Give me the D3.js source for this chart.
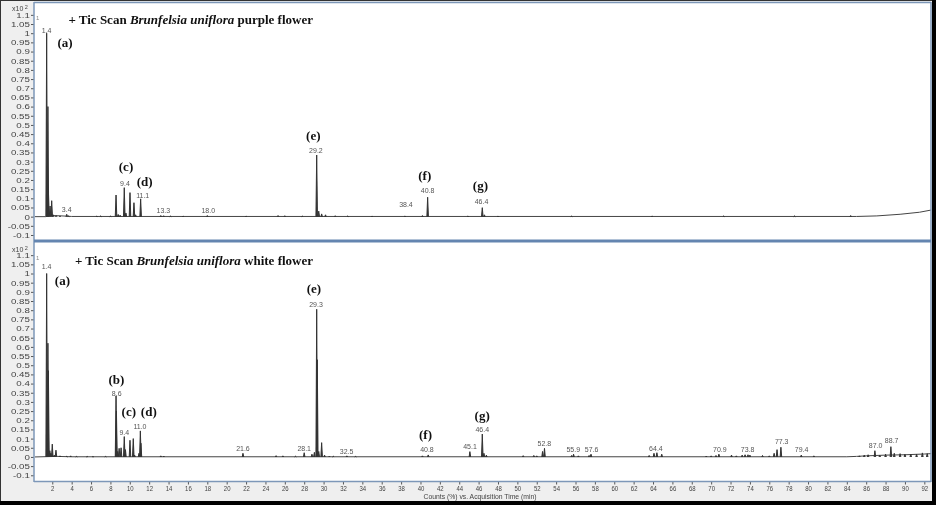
<!DOCTYPE html>
<html>
  <head>
    <script src="https://d3js.org/d3.v7.min.js" charset="utf-8"></script>
    <style type="text/css">
    body { margin: 0; background: #fff; }
    text { filter: grayscale(1); }
    .tick text { font-family: "Liberation Sans", Arial, sans-serif; font-size: 7.5px; fill: #444; }
    .tag { font-family: "Liberation Sans", Arial, sans-serif; font-size: 7px; fill: #555; text-anchor: middle; }
    .letter { font-family: "Liberation Serif", "Times New Roman", serif; font-size: 13px; font-weight: bold; fill: #111; text-anchor: middle; }
    .title { font-family: "Liberation Serif", "Times New Roman", serif; font-size: 13px; font-weight: bold; fill: #111; }
    </style>
  </head>
  <body>
  <script type="text/javascript">

  // retention time (min), relative height (x10^2 counts %)
  var topPeaks = [
    [1.42, 1.0], [1.55, 0.6], [1.6, 0.14], [1.77, 0.058], [1.94, 0.087], [2.1, 0.01], [2.4, 0.006],
    [2.8, 0.004], [3.49, 0.013], [3.7, 0.004], [6.6, 0.003], [7.0, 0.004], [8.0, 0.003],
    [8.58, 0.118], [8.8, 0.012], [9.0, 0.008], [9.43, 0.158], [9.6, 0.02], [10.02, 0.131],
    [10.43, 0.076], [10.6, 0.01], [11.12, 0.097], [13.2, 0.006], [13.5, 0.005], [14.2, 0.003],
    [15.5, 0.003], [18.0, 0.006], [22.0, 0.003], [25.3, 0.006], [26.0, 0.005], [27.8, 0.003],
    [29.29, 0.336], [29.5, 0.03], [29.8, 0.015], [30.2, 0.01], [31.2, 0.005], [32.5, 0.004],
    [35.0, 0.003], [38.4, 0.004], [40.2, 0.006], [40.74, 0.106], [44.9, 0.004], [46.38, 0.049],
    [46.6, 0.01], [48.0, 0.003], [55.6, 0.003], [63.9, 0.004], [71.3, 0.004], [78.6, 0.004], [84.4, 0.006]
  ];
  var topBaseline = [
    [0.2, 0], [1.3, 0], [2.0, 0.006], [3.0, 0.004], [4.0, 0.001], [85.0, 0.001], [87.1, 0.004],
    [89.5, 0.013], [91.5, 0.024], [92.7, 0.036]
  ];
  var topTags = [
    ["1.4", 1.42, 1.014], ["3.4", 3.49, 0.04], ["9.4", 9.5, 0.182], ["11.1", 11.33, 0.118],
    ["13.3", 13.46, 0.031], ["18.0", 18.1, 0.031], ["29.2", 29.21, 0.358], ["38.4", 38.5, 0.064],
    ["40.8", 40.74, 0.142], ["46.4", 46.3, 0.082]
  ];
  var topLetters = [
    ["(a)", 3.31, 0.949], ["(c)", 9.61, 0.274], ["(d)", 11.54, 0.191], ["(e)", 28.94, 0.445],
    ["(f)", 40.44, 0.222], ["(g)", 46.19, 0.171]
  ];

  var bottomPeaks = [
    [1.42, 1.0], [1.55, 0.62], [1.6, 0.47], [1.75, 0.034], [1.85, 0.02], [2.0, 0.07], [2.2, 0.01],
    [2.38, 0.037], [2.8, 0.006], [3.5, 0.004], [3.9, 0.006], [4.5, 0.003], [5.6, 0.003], [6.2, 0.003],
    [7.5, 0.003], [8.58, 0.333], [8.62, 0.25], [8.75, 0.03], [8.9, 0.047], [9.1, 0.05], [9.43, 0.111],
    [9.55, 0.04], [10.02, 0.091], [10.36, 0.1], [10.5, 0.01], [10.95, 0.02], [11.09, 0.142],
    [11.15, 0.075], [13.2, 0.006], [13.5, 0.005], [21.68, 0.02], [25.1, 0.007], [25.8, 0.006],
    [27.1, 0.004], [28.0, 0.023], [28.8, 0.015], [29.05, 0.025], [29.29, 0.805], [29.35, 0.53],
    [29.5, 0.03], [29.8, 0.078], [30.1, 0.01], [30.6, 0.005], [31.0, 0.004], [32.4, 0.006],
    [33.3, 0.003], [40.2, 0.006], [40.8, 0.011], [45.1, 0.029], [46.38, 0.125], [46.55, 0.02],
    [46.8, 0.01], [50.6, 0.007], [51.7, 0.008], [52.0, 0.006], [52.6, 0.03], [52.8, 0.047],
    [55.6, 0.008], [55.8, 0.015], [56.3, 0.006], [57.4, 0.008], [57.6, 0.015], [63.6, 0.008],
    [64.1, 0.02], [64.4, 0.023], [64.9, 0.015], [69.5, 0.005], [70.0, 0.006], [70.5, 0.008],
    [70.8, 0.015], [72.1, 0.01], [72.6, 0.006], [73.2, 0.01], [73.5, 0.012], [73.8, 0.012],
    [74.0, 0.01], [75.3, 0.008], [76.0, 0.006], [76.5, 0.02], [76.8, 0.04], [77.2, 0.053],
    [79.3, 0.01], [80.6, 0.006], [85.3, 0.006], [85.8, 0.01], [86.2, 0.012], [86.9, 0.034],
    [87.4, 0.01], [88.0, 0.015], [88.55, 0.056], [88.9, 0.02], [89.5, 0.018], [90.0, 0.015],
    [90.6, 0.016], [91.2, 0.015], [91.8, 0.022], [92.3, 0.018]
  ];
  var bottomBaseline = [
    [0.2, 0], [2.5, 0.003], [4.0, 0.001], [84.0, 0.001], [85.0, 0.003], [86.0, 0.006],
    [88.0, 0.01], [90.0, 0.012], [92.0, 0.016], [92.7, 0.018]
  ];
  var bottomTags = [
    ["1.4", 1.42, 1.038], ["8.6", 8.65, 0.347], ["9.4", 9.43, 0.135], ["11.0", 11.05, 0.165],
    ["21.6", 21.68, 0.044], ["28.1", 28.0, 0.044], ["29.3", 29.22, 0.83], ["32.5", 32.38, 0.029],
    ["40.8", 40.67, 0.038], ["45.1", 45.11, 0.056], ["46.4", 46.38, 0.147], ["52.8", 52.78, 0.075],
    ["55.9", 55.77, 0.042], ["57.6", 57.67, 0.042], ["64.4", 64.3, 0.047], ["70.9", 70.9, 0.042],
    ["73.8", 73.77, 0.038], ["77.3", 77.28, 0.083], ["79.4", 79.34, 0.038], ["87.0", 86.98, 0.06],
    ["88.7", 88.63, 0.089]
  ];
  var bottomLetters = [
    ["(a)", 3.05, 0.961], ["(e)", 29.0, 0.916], ["(b)", 8.61, 0.424], ["(c)", 9.9, 0.247],
    ["(d)", 11.96, 0.247], ["(f)", 40.52, 0.125], ["(g)", 46.37, 0.224]
  ];

  var yTicks = d3.range(-0.1, 1.1001, 0.05).map(function(v) { return Math.round(v * 100) / 100; });
  var xTicks = d3.range(2, 93, 2);

  var W = 936, H = 505;
  var svg = d3.select("body").append("svg").attr("width", W).attr("height", H);

  // backgrounds
  svg.append("rect").attr("x", 0).attr("y", 0).attr("width", W).attr("height", H).attr("fill", "#efefef");
  svg.append("rect").attr("x", 34).attr("y", 3).attr("width", 897).attr("height", 478.5).attr("fill", "#fff");

  var x = d3.scaleLinear().domain([0, 92.7]).range([32.9, 931.1]);

  var spike = d3.line().x(function(d) { return x(d[0]); });

  function drawPanel(peaks, baseline, tags, letters, top, bottom, name) {
    var y = d3.scaleLinear().domain([-0.13, 1.163]).range([bottom, top]);
    var g = svg.append("g");

    var yAxis = d3.axisLeft(y).tickValues(yTicks).tickSize(3).tickPadding(1)
      .tickFormat(function(d) { return d3.format("~g")(d).replace("\u2212", "-"); });
    g.append("g").attr("transform", "translate(34,0)").call(yAxis)
      .call(function(a) {
        a.select(".domain").remove();
        a.selectAll("line").attr("stroke", "#555");
        a.selectAll("text").attr("transform", "scale(1.3,1)").attr("x", -3.2);
      });

    // x10^2 label and panel index
    var ex = g.append("text").attr("x", 12).attr("y", top + 8).attr("font-family", "Liberation Sans, Arial, sans-serif")
      .attr("font-size", 7).attr("fill", "#444").text("x10");
    ex.append("tspan").attr("dy", -2).attr("font-size", 5.5).text(" 2");
    g.append("text").attr("x", 36).attr("y", top + 16.5).attr("font-family", "Liberation Sans, Arial, sans-serif")
      .attr("font-size", 6).attr("fill", "#888").text("1");

    spike.y(function(d) { return y(d[1]); });

    g.append("path").datum(baseline).attr("d", spike).attr("fill", "none")
      .attr("stroke", "#444").attr("stroke-width", 1);

    g.selectAll("path.peak").data(peaks).enter().append("path").attr("class", "peak")
      .attr("d", function(d) { return spike([[d[0] - 0.08, 0], [d[0], d[1]], [d[0] + 0.08, 0]]); })
      .attr("fill", "#333").attr("stroke", "#333").attr("stroke-width", 1).attr("stroke-linejoin", "miter");

    g.selectAll("text.tag").data(tags).enter().append("text").attr("class", "tag")
      .attr("x", function(d) { return x(d[1]); })
      .attr("y", function(d) { return y(d[2]) + 2.5; })
      .text(function(d) { return d[0]; });

    g.selectAll("text.letter").data(letters).enter().append("text").attr("class", "letter")
      .attr("x", function(d) { return x(d[1]); })
      .attr("y", function(d) { return y(d[2]) + 4.5; })
      .text(function(d) { return d[0]; });

    var t = g.append("text").attr("class", "title").attr("x", 313).attr("y", top + 21)
      .attr("text-anchor", "end");
    t.append("tspan").text("+ Tic Scan ");
    t.append("tspan").attr("font-style", "italic").text("Brunfelsia uniflora");
    t.append("tspan").text(" " + name);
    return y;
  }

  drawPanel(topPeaks, topBaseline, topTags, topLetters, 3.3, 240.5, "purple flower");
  drawPanel(bottomPeaks, bottomBaseline, bottomTags, bottomLetters, 243.6, 480.8, "white flower");

  // x axis
  var xAxis = d3.axisBottom(x).tickValues(xTicks).tickSize(3).tickPadding(1).tickFormat(d3.format("d"));
  svg.append("g").attr("transform", "translate(0,481.5)").call(xAxis)
    .call(function(a) {
      a.select(".domain").remove();
      a.selectAll("line").attr("stroke", "#555");
      a.selectAll("text").attr("transform", "scale(0.8,1)");
    });

  svg.append("text").attr("x", 480).attr("y", 499).attr("text-anchor", "middle")
    .attr("font-family", "Liberation Sans, Arial, sans-serif").attr("font-size", 6.8).attr("fill", "#444")
    .text("Counts (%) vs. Acquisition Time (min)");

  // frame
  var frame = "#7d97b8";
  svg.append("line").attr("x1", 34).attr("x2", 34).attr("y1", 2).attr("y2", 482).attr("stroke", frame).attr("stroke-width", 1.5);
  svg.append("line").attr("x1", 931).attr("x2", 931).attr("y1", 2).attr("y2", 482).attr("stroke", frame).attr("stroke-width", 1.5);
  svg.append("line").attr("x1", 34).attr("x2", 931).attr("y1", 2.5).attr("y2", 2.5).attr("stroke", frame).attr("stroke-width", 1.5);
  svg.append("line").attr("x1", 34).attr("x2", 931).attr("y1", 481.5).attr("y2", 481.5).attr("stroke", frame).attr("stroke-width", 1.5);
  svg.append("line").attr("x1", 34).attr("x2", 931).attr("y1", 241).attr("y2", 241).attr("stroke", "#6485b0").attr("stroke-width", 3);

  // outer border
  svg.append("rect").attr("x", 0).attr("y", 0).attr("width", W).attr("height", 1).attr("fill", "#333");
  svg.append("rect").attr("x", 0).attr("y", 0).attr("width", 1).attr("height", H).attr("fill", "#333");
  svg.append("rect").attr("x", 932).attr("y", 0).attr("width", 4).attr("height", H).attr("fill", "#000");
  svg.append("rect").attr("x", 0).attr("y", 501).attr("width", W).attr("height", 4).attr("fill", "#000");

  </script>
  </body>
</html>
